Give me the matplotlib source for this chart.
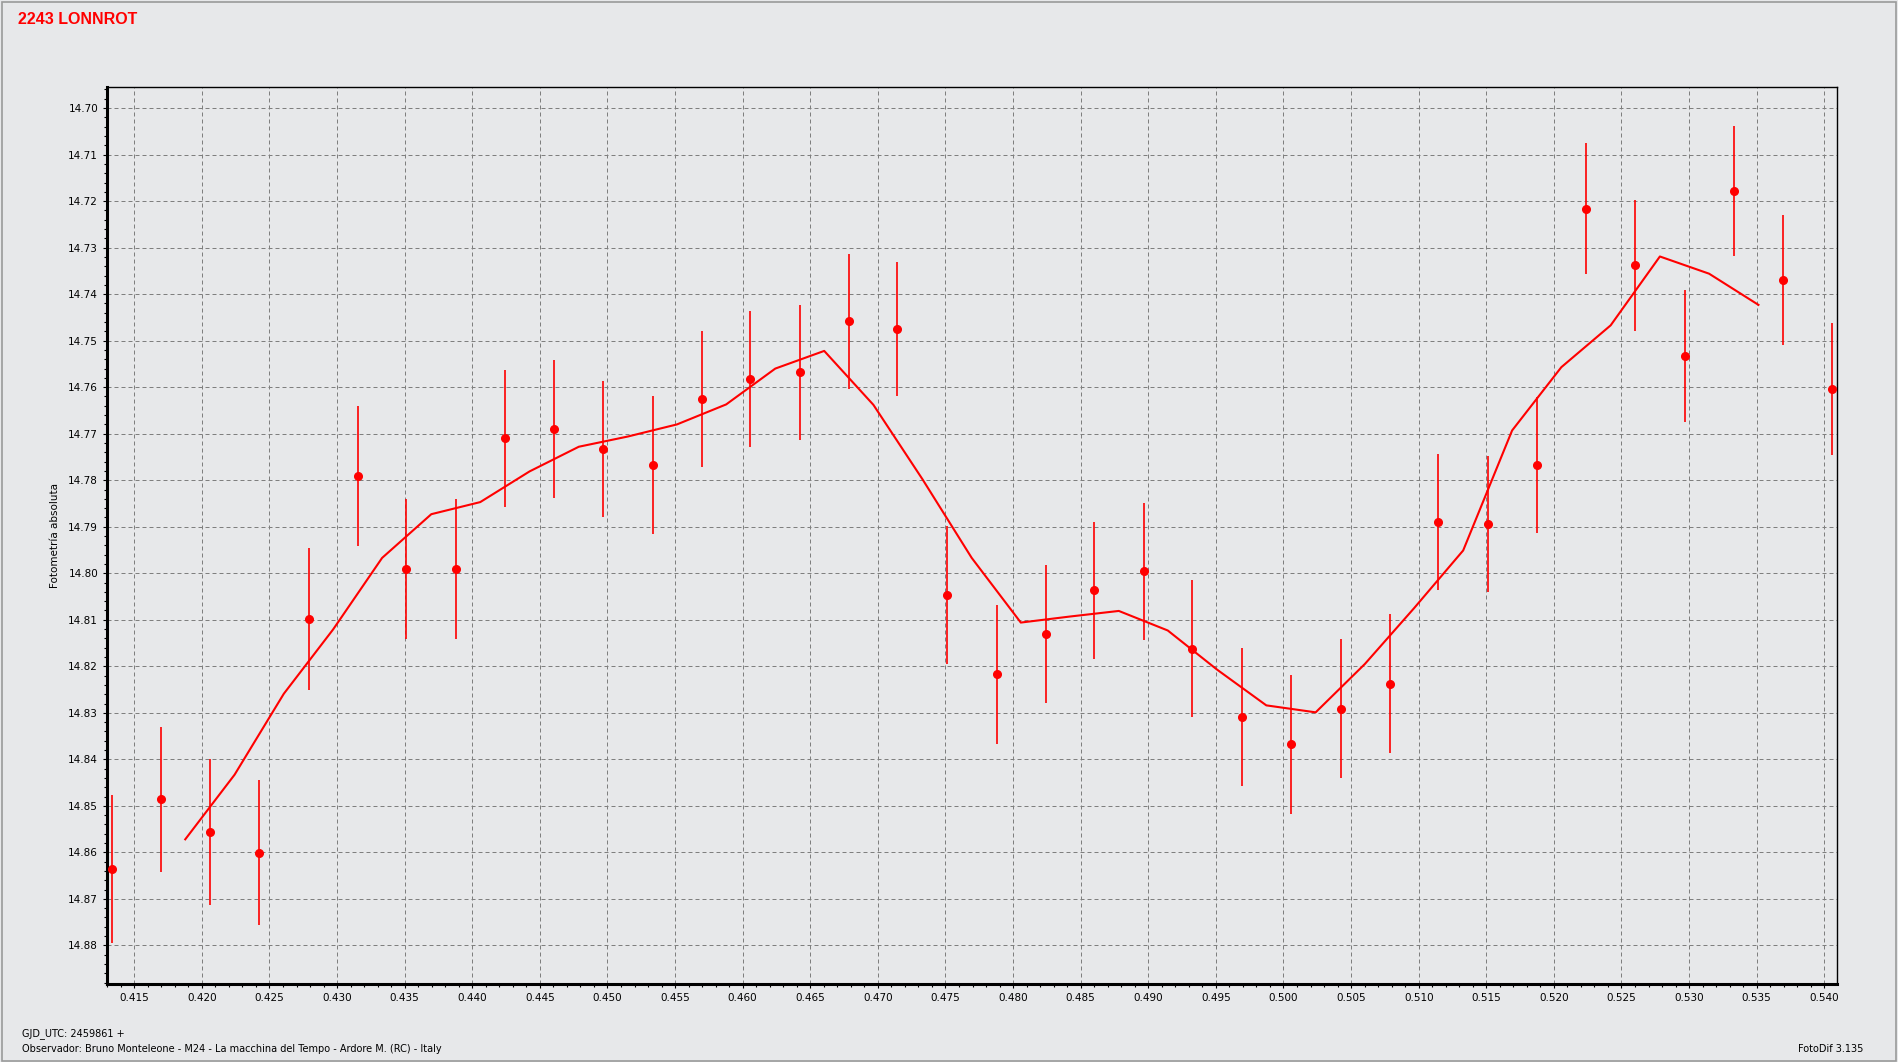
import matplotlib
matplotlib.use("Agg")
import matplotlib.pyplot as plt
from matplotlib.ticker import MultipleLocator, FormatStrFormatter
from matplotlib.patches import Rectangle

# ---- data ----
gjd = [0.41337, 0.41697, 0.42057, 0.42424, 0.42791, 0.43153, 0.43510, 0.43879,
       0.44244, 0.44603, 0.44970, 0.45333, 0.45697, 0.46057, 0.46425, 0.46786,
       0.47145, 0.47510, 0.47879, 0.48241, 0.48596, 0.48966, 0.49325, 0.49690,
       0.50052, 0.50424, 0.50786, 0.51145, 0.51510, 0.51874, 0.52236, 0.52601,
       0.52970, 0.53330, 0.53692, 0.54059]
mag = [14.8635, 14.8486, 14.8556, 14.8601, 14.8098, 14.7791, 14.7991, 14.7991,
       14.7710, 14.7690, 14.7733, 14.7768, 14.7626, 14.7583, 14.7568, 14.7458,
       14.7474, 14.8046, 14.8217, 14.8130, 14.8037, 14.7996, 14.8162, 14.8309,
       14.8368, 14.8291, 14.8237, 14.7889, 14.7894, 14.7768, 14.7216, 14.7338,
       14.7532, 14.7179, 14.7370, 14.7604]
err = [0.0159, 0.0156, 0.0157, 0.0156, 0.0152, 0.0150, 0.0151, 0.0150,
       0.0148, 0.0148, 0.0147, 0.0148, 0.0146, 0.0146, 0.0145, 0.0145,
       0.0144, 0.0148, 0.0149, 0.0148, 0.0148, 0.0148, 0.0148, 0.0149,
       0.0149, 0.0149, 0.0149, 0.0146, 0.0146, 0.0146, 0.0140, 0.0141,
       0.0142, 0.0140, 0.0140, 0.0141]

# smoothed curve (as drawn in the reference)
curve_x = [0.41877, 0.42242, 0.42606, 0.42970, 0.43333, 0.43697, 0.44059, 0.44424,
           0.44788, 0.45151, 0.45514, 0.45878, 0.46241, 0.46603, 0.46967, 0.47330,
           0.47694, 0.48057, 0.48421, 0.48782, 0.49144, 0.49508, 0.49873, 0.50238,
           0.50602, 0.50966, 0.51329, 0.51691, 0.52055, 0.52420, 0.52784, 0.53148,
           0.53513]
curve_y = [14.8572, 14.8433, 14.8259, 14.8121, 14.7967, 14.7873, 14.7847, 14.7781,
           14.7728, 14.7706, 14.7680, 14.7637, 14.7560, 14.7522, 14.7638, 14.7798,
           14.7967, 14.8106, 14.8093, 14.8081, 14.8123, 14.8207, 14.8284, 14.8299,
           14.8195, 14.8075, 14.7951, 14.7693, 14.7557, 14.7467, 14.7319, 14.7356,
           14.7423]

title = "2243 LONNROT"
ylabel = "Fotometría absoluta"
foot1 = "GJD_UTC: 2459861 +"
foot2 = "Observador: Bruno Monteleone - M24 - La macchina del Tempo - Ardore M. (RC) - Italy"
foot3 = "FotoDif 3.135"

W, H = 1898, 1062
BG = "#E7E8EA"
fig = plt.figure(figsize=(W / 100, H / 100), dpi=100, facecolor=BG)

# figure border
fig.patches.append(Rectangle((0.0008, 0.001), 0.9984, 0.9975, transform=fig.transFigure,
                             fill=False, edgecolor="#9A9A9A", lw=1.2))

left, right = 106.7 / W, 1837 / W
top, bottom = 1 - 86.7 / H, 1 - 984 / H
ax = fig.add_axes([left, bottom, right - left, top - bottom], facecolor=BG)

ax.plot(curve_x, curve_y, color="#FF0000", lw=1.5, zorder=3)
ax.errorbar(gjd, mag, yerr=err, fmt="o", color="#FF0000", ms=5.5, mec="#FF0000",
            elinewidth=1.2, capsize=0, zorder=4)

ax.set_xlim(0.41296, 0.54094)
ax.set_ylim(14.8883, 14.6954)

ax.xaxis.set_major_locator(MultipleLocator(0.005))
ax.xaxis.set_minor_locator(MultipleLocator(0.001))
ax.yaxis.set_major_locator(MultipleLocator(0.01))
ax.yaxis.set_minor_locator(MultipleLocator(0.002))
ax.xaxis.set_major_formatter(FormatStrFormatter("%.3f"))
ax.yaxis.set_major_formatter(FormatStrFormatter("%.2f"))

ax.grid(True, which="major", color="#7F7F7F", lw=0.72, linestyle=(0, (4, 3)))
ax.set_axisbelow(True)

ax.tick_params(which="major", direction="out", length=3.2, width=0.8, color="black",
               labelsize=7.5, pad=3)
ax.tick_params(which="minor", direction="out", length=2.0, width=0.8, color="black")
for lab in ax.get_xticklabels() + ax.get_yticklabels():
    lab.set_family("DejaVu Sans")

for s in ["left", "bottom"]:
    ax.spines[s].set_linewidth(2.2)
for s in ["top", "right"]:
    ax.spines[s].set_linewidth(1.0)

fig.text(55 / W, (1 - 535 / H), ylabel, rotation=90, ha="center", va="center",
         fontsize=7.5, family="DejaVu Sans")

fig.text(18 / W, 1 - 19.5 / H, title, ha="left", va="center", color="#FF0000",
         fontsize=11.5, fontweight="bold", family="Liberation Sans")

fig.text(22 / W, 1 - 1034 / H, foot1, ha="left", va="center", fontsize=7,
         family="DejaVu Sans")
fig.text(22 / W, 1 - 1049 / H, foot2, ha="left", va="center", fontsize=7,
         family="DejaVu Sans")
fig.text(1863 / W, 1 - 1049 / H, foot3, ha="right", va="center", fontsize=7,
         family="DejaVu Sans")

fig.savefig("out.png", dpi=100, facecolor=BG)
